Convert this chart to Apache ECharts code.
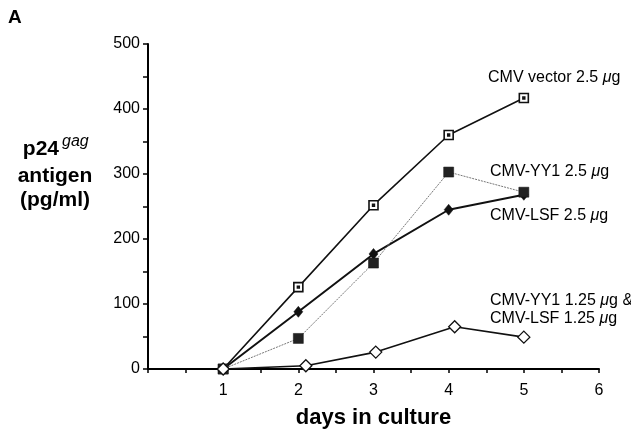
<!DOCTYPE html>
<html><head><meta charset="utf-8">
<script src="https://cdn.jsdelivr.net/npm/echarts@6/dist/echarts.min.js"></script>
<style>html,body{margin:0;padding:0;background:#fff}#c{width:631px;height:434px}</style>
</head><body><div id="c"></div>
<script>
const xTicks = [1, 2, 3, 4, 5, 6];
const yTicks = [0, 100, 200, 300, 400, 500];
const vectorData = [[1, 0], [2, 126], [3, 252], [4, 360], [5, 417]];
const yy1Data = [[1, 0], [2, 47], [3, 163], [4, 303], [5, 272]];
const lsfData = [[1, 0], [2, 88], [3, 177], [4, 245], [5, 268]];
const comboData = [[1, 0], [2.1, 5], [3.03, 26], [4.08, 65], [5, 49]];
const seriesNames = ['CMV vector 2.5 μg', 'CMV-YY1 2.5 μg', 'CMV-LSF 2.5 μg', 'CMV-YY1 1.25 μg & CMV-LSF 1.25 μg'];

const chart = echarts.init(document.getElementById('c'));
const font = 'Liberation Sans, Arial, Helvetica, sans-serif';
const richI = {i: {fontStyle: 'italic', fontSize: 16, fontFamily: font, lineHeight: 19}};
chart.setOption({
  animation: false,
  backgroundColor: '#fff',
  grid: {left: 148, right: 32, top: 44, bottom: 62},
  xAxis: {
    type: 'value', min: 0, max: 6, interval: 0.5,
    axisLine: {lineStyle: {color: '#000', width: 2}},
    axisTick: {show: true, length: 4, lineStyle: {color: '#000', width: 1.5}},
    splitLine: {show: false},
    axisLabel: {
      color: '#000', fontSize: 16, fontFamily: font, margin: 14,
      formatter: v => xTicks.indexOf(v) >= 0 ? String(v) : ''
    },
    name: 'days in culture', nameLocation: 'middle', nameGap: 38,
    nameTextStyle: {color: '#000', fontSize: 22, fontWeight: 'bold', fontFamily: font}
  },
  yAxis: {
    type: 'value', min: 0, max: 500, interval: 50,
    axisLine: {show: true, lineStyle: {color: '#000', width: 2}},
    axisTick: {show: true, length: 5, lineStyle: {color: '#000', width: 1.5}},
    splitLine: {show: false},
    axisLabel: {
      color: '#000', fontSize: 16, fontFamily: font, margin: 8,
      formatter: v => yTicks.indexOf(v) >= 0 ? String(v) : ''
    }
  },
  series: [
    {
      name: seriesNames[0], type: 'line', data: vectorData,
      lineStyle: {color: '#111', width: 1.6},
      symbol: 'path://M0,0H10V10H0Z M4,4H6V6H4Z', symbolSize: 9,
      itemStyle: {color: '#fff', borderColor: '#111', borderWidth: 1.6}, z: 3
    },
    {
      name: seriesNames[1], type: 'line', data: yy1Data,
      lineStyle: {color: '#777', width: 1, type: [2, 1]},
      symbol: 'rect', symbolSize: 10,
      itemStyle: {color: '#222', borderColor: '#111', borderWidth: 0.5}, z: 4
    },
    {
      name: seriesNames[2], type: 'line', data: lsfData,
      lineStyle: {color: '#111', width: 2},
      symbol: 'diamond', symbolSize: [9, 11],
      itemStyle: {color: '#111', borderColor: '#111', borderWidth: 0.5}, z: 3
    },
    {
      name: seriesNames[3], type: 'line', data: comboData,
      lineStyle: {color: '#111', width: 1.6},
      symbol: 'diamond', symbolSize: 12,
      itemStyle: {color: '#fff', borderColor: '#111', borderWidth: 1.3}, z: 5
    }
  ],
  graphic: [
    {type: 'text', left: 8, top: 8, style: {text: 'A', fill: '#000', font: 'bold 19px ' + font}},
    {type: 'text', left: 488, top: 70, style: {text: 'CMV vector 2.5 {i|μ}g', fill: '#000', font: '16px ' + font, rich: richI}},
    {type: 'text', left: 490, top: 164, style: {text: 'CMV-YY1 2.5 {i|μ}g', fill: '#000', font: '16px ' + font, rich: richI}},
    {type: 'text', left: 490, top: 208, style: {text: 'CMV-LSF 2.5 {i|μ}g', fill: '#000', font: '16px ' + font, rich: richI}},
    {type: 'text', left: 490, top: 292, style: {text: 'CMV-YY1 1.25 {i|μ}g &\nCMV-LSF 1.25 {i|μ}g', fill: '#000', font: '16px ' + font, lineHeight: 18, rich: {i: {fontStyle: 'italic', fontSize: 16, fontFamily: font, lineHeight: 18}}}},
    {type: 'text', style: {x: 59, y: 149, text: 'p24', align: 'right', verticalAlign: 'middle', fill: '#000', font: 'bold 21px ' + font}},
    {type: 'text', style: {x: 62, y: 142, text: 'gag', align: 'left', verticalAlign: 'middle', fill: '#000', font: 'italic 16px ' + font}},
    {type: 'text', style: {x: 55, y: 176, text: 'antigen', align: 'center', verticalAlign: 'middle', fill: '#000', font: 'bold 21px ' + font}},
    {type: 'text', style: {x: 55, y: 200, text: '(pg/ml)', align: 'center', verticalAlign: 'middle', fill: '#000', font: 'bold 21px ' + font}}
  ]
});
</script></body></html>
